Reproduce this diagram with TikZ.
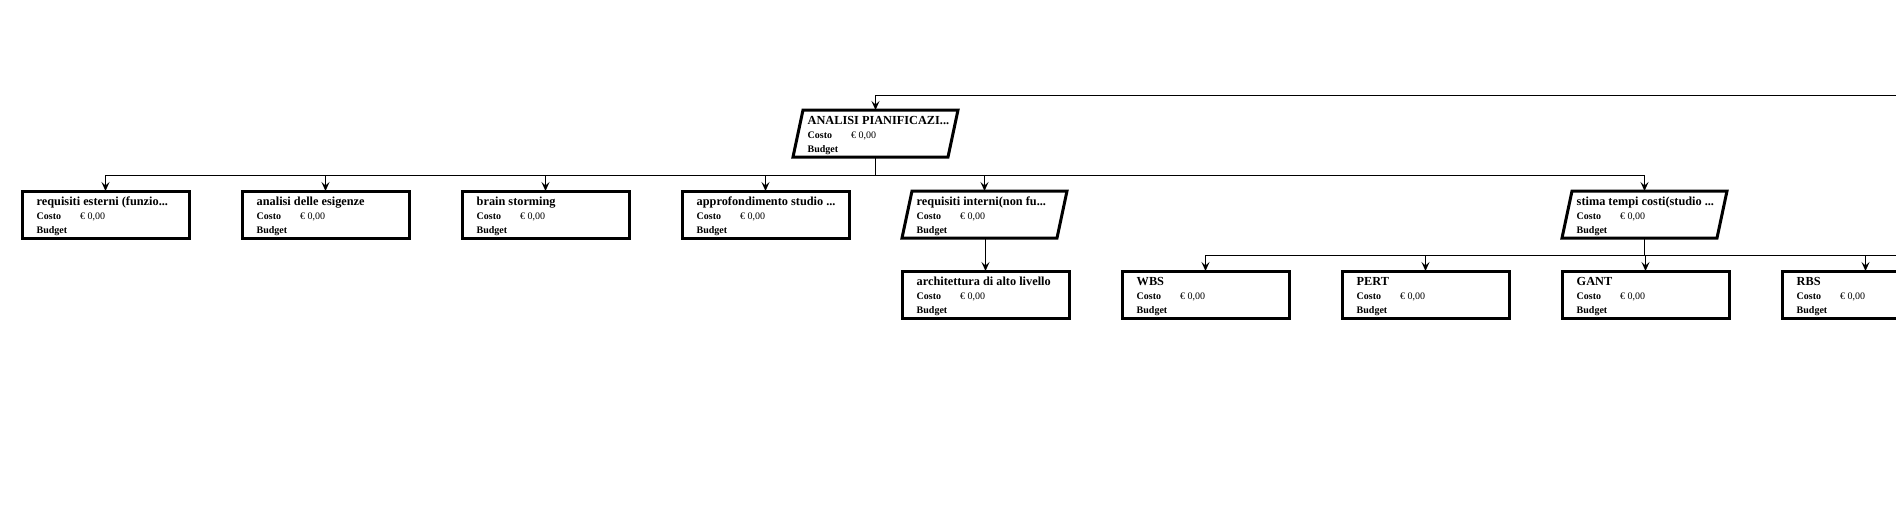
\documentclass[tikz,border=0pt]{standalone}
\usepackage{fontspec}
\setmainfont{Liberation Serif}
\usetikzlibrary{calc,arrows.meta}
\tikzset{
 box/.style={draw=black, line width=3pt, minimum width=167pt, minimum height=47pt, inner sep=0pt, outer sep=0pt, anchor=north west},
 parabox/.style={minimum width=165pt, minimum height=47pt, inner sep=0pt, outer sep=0pt, anchor=north west},
 paraline/.style={draw=black, line width=3pt, line join=miter},
 ttl/.style={anchor=base west, inner sep=0pt, font=\fontsize{12.3}{14}\selectfont\bfseries},
 lbl/.style={anchor=base west, inner sep=0pt, font=\fontsize{10}{12}\selectfont\bfseries},
 val/.style={anchor=base west, inner sep=0pt, font=\fontsize{10}{12}\selectfont},
 conn/.style={draw=black, line width=1pt},
 arr/.style={conn, -{Stealth[length=9pt,width=8pt,inset=3.5pt]}},
}
\newcommand{\wbstext}[2]{%
 \node[ttl] (#1-t) at ($(#1.north west)+(14.5,14)$) {#2};
 \node[lbl] (#1-c) at ($(#1.north west)+(14.5,28.8)$) {Costo};
 \node[val] (#1-v) at ($(#1.north west)+(58,28.8)$) {€ 0,00};
 \node[lbl] (#1-b) at ($(#1.north west)+(14.5,42)$) {Budget};
}
\newcommand{\wbsrect}[4]{\node[box] (#1) at (#2,#3) {}; \wbstext{#1}{#4}}
\newcommand{\wbspara}[4]{\node[parabox] (#1) at (#2,#3) {};
 \draw[paraline] ($(#1.north west)+(10,0)$) -- (#1.north east) -- ($(#1.south east)+(-10,0)$) -- (#1.south west) -- cycle;
 \wbstext{#1}{#4}}
\begin{document}
\begin{tikzpicture}[x=1pt,y=-1pt]
\useasboundingbox (0,0) rectangle (1896,531);
\fill[white] (0,0) rectangle (1896,531);
\clip (0,0) rectangle (1896,531);
% level 1
\wbspara{an}{793}{110}{ANALISI PIANIFICAZI...}
% level 2
\wbsrect{r1}{22}{191}{requisiti esterni (funzio...}
\wbsrect{r2}{242}{191}{analisi delle esigenze}
\wbsrect{r3}{462}{191}{brain storming}
\wbsrect{r4}{682}{191}{approfondimento studio ...}
\wbspara{r5}{902}{191}{requisiti interni(non fu...}
\wbspara{r6}{1562}{191}{stima tempi costi(studio ...}
% level 3
\wbsrect{a1}{902}{271}{architettura di alto livello}
\wbsrect{s1}{1122}{271}{WBS}
\wbsrect{s2}{1342}{271}{PERT}
\wbsrect{s3}{1562}{271}{GANT}
\wbsrect{s4}{1782}{271}{RBS}
% connectors
\coordinate (topin) at (1900,95);
\coordinate (bus1) at (0,175);
\coordinate (bus3) at (0,255);
\coordinate (busend) at (1900,255);
\draw[arr] (topin) -| (an.north);
\foreach \c in {r1,r2,r3,r4,r5,r6}
  \draw[arr] (an.south) -- (an.south |- bus1) -| (\c.north);
\draw[arr] (r5.south -| a1.north) -- (a1.north);
\draw[conn] (r6.south) -- (r6.south |- bus3) -- (busend);
\foreach \c in {s1,s2,s3,s4}
  \draw[arr] (r6.south |- bus3) -| (\c.north);
\end{tikzpicture}
\end{document}
